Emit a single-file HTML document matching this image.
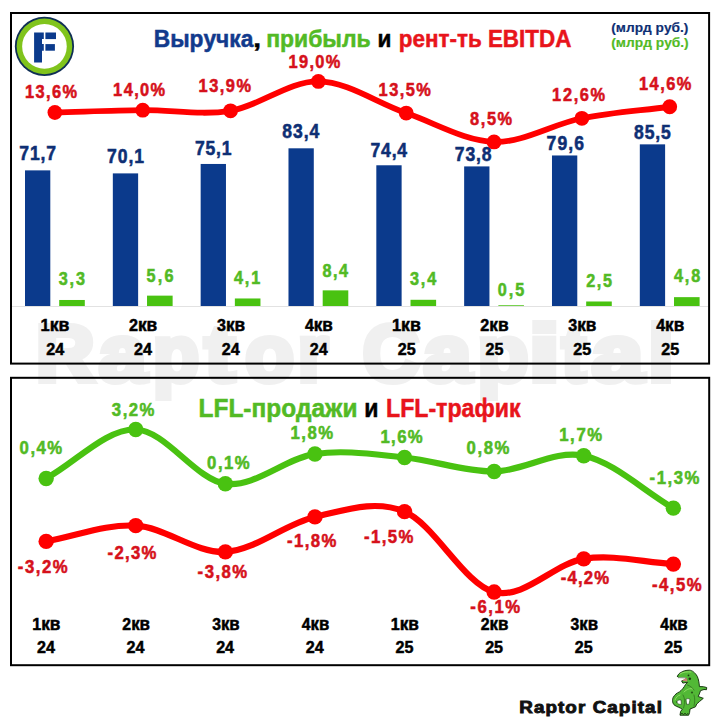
<!DOCTYPE html>
<html><head><meta charset="utf-8"><style>
html,body{margin:0;padding:0;background:#fff;}
body{width:720px;height:720px;overflow:hidden;}
svg{display:block;}
text{font-family:"Liberation Sans",sans-serif;font-weight:bold;font-kerning:none;}
</style></head><body>
<svg width="720" height="720" viewBox="0 0 720 720">
<rect width="720" height="720" fill="#fff"/>
<text x="36.07" y="380.80" font-size="79" textLength="58.59" lengthAdjust="spacingAndGlyphs" fill="#f0f0f0" stroke="#f0f0f0" stroke-width="6">R</text>
<text x="99.00" y="380.80" font-size="79" textLength="47.46" lengthAdjust="spacingAndGlyphs" fill="#f0f0f0" stroke="#f0f0f0" stroke-width="6">a</text>
<text x="153.03" y="380.80" font-size="79" textLength="46.06" lengthAdjust="spacingAndGlyphs" fill="#f0f0f0" stroke="#f0f0f0" stroke-width="6">p</text>
<text x="204.89" y="380.80" font-size="79" textLength="30.22" lengthAdjust="spacingAndGlyphs" fill="#f0f0f0" stroke="#f0f0f0" stroke-width="6">t</text>
<text x="245.38" y="380.80" font-size="79" textLength="48.73" lengthAdjust="spacingAndGlyphs" fill="#f0f0f0" stroke="#f0f0f0" stroke-width="6">o</text>
<text x="297.87" y="380.80" font-size="79" textLength="30.31" lengthAdjust="spacingAndGlyphs" fill="#f0f0f0" stroke="#f0f0f0" stroke-width="6">r</text>
<text x="362.80" y="380.80" font-size="79" textLength="56.33" lengthAdjust="spacingAndGlyphs" fill="#f0f0f0" stroke="#f0f0f0" stroke-width="6">C</text>
<text x="423.47" y="380.80" font-size="79" textLength="47.98" lengthAdjust="spacingAndGlyphs" fill="#f0f0f0" stroke="#f0f0f0" stroke-width="6">a</text>
<text x="477.51" y="380.80" font-size="79" textLength="50.91" lengthAdjust="spacingAndGlyphs" fill="#f0f0f0" stroke="#f0f0f0" stroke-width="6">p</text>
<text x="528.76" y="380.80" font-size="79" textLength="31.18" lengthAdjust="spacingAndGlyphs" fill="#f0f0f0" stroke="#f0f0f0" stroke-width="6">i</text>
<text x="561.71" y="380.80" font-size="79" textLength="24.17" lengthAdjust="spacingAndGlyphs" fill="#f0f0f0" stroke="#f0f0f0" stroke-width="6">t</text>
<text x="591.78" y="380.80" font-size="79" textLength="51.63" lengthAdjust="spacingAndGlyphs" fill="#f0f0f0" stroke="#f0f0f0" stroke-width="6">a</text>
<text x="648.14" y="380.80" font-size="79" textLength="26.12" lengthAdjust="spacingAndGlyphs" fill="#f0f0f0" stroke="#f0f0f0" stroke-width="6">l</text>
<rect x="11" y="13" width="698.1" height="350.6" fill="none" stroke="#000" stroke-width="2"/>
<rect x="11" y="377.8" width="698.2" height="287.4" fill="none" stroke="#000" stroke-width="2"/>
<circle cx="44.45" cy="46.4" r="29.6" fill="#0f2f55"/>
<circle cx="44.45" cy="46.4" r="27.8" fill="#80c41c"/>
<circle cx="44.45" cy="46.4" r="22.3" fill="#fff"/>
<path d="M34.1,32.5H43.8V39.1H42V44.1H43.8V50.7H42V62.6H34.1Z" fill="#0b3a8c"/>
<rect x="45.4" y="32.5" width="10.6" height="6.6" fill="#0b3a8c"/>
<rect x="45.4" y="44.1" width="9.5" height="6.6" fill="#0b3a8c"/>
<text x="153.73" y="47.10" font-size="24" textLength="99.63" lengthAdjust="spacingAndGlyphs" fill="#123a8c" stroke="#123a8c" stroke-width="0.5">Выручка</text>
<text x="253.35" y="47.10" font-size="24" textLength="7.77" lengthAdjust="spacingAndGlyphs" fill="#000000" stroke="#000000" stroke-width="0.5">,</text>
<text x="266.15" y="47.10" font-size="24" textLength="104.56" lengthAdjust="spacingAndGlyphs" fill="#52ba25" stroke="#52ba25" stroke-width="0.5">прибыль</text>
<text x="377.43" y="47.10" font-size="24" textLength="13.88" lengthAdjust="spacingAndGlyphs" fill="#000000" stroke="#000000" stroke-width="0.5">и</text>
<text x="398.77" y="47.10" font-size="24" textLength="172.57" lengthAdjust="spacingAndGlyphs" fill="#e8141b" stroke="#e8141b" stroke-width="0.5">рент-ть EBITDA</text>
<text x="611.29" y="32.30" font-size="12.3" textLength="77.06" lengthAdjust="spacingAndGlyphs" fill="#0e2f74" stroke="#0e2f74" stroke-width="0.15">(млрд руб.)</text>
<text x="611.29" y="46.75" font-size="12.5" textLength="77.42" lengthAdjust="spacingAndGlyphs" fill="#52ba25" stroke="#52ba25" stroke-width="0.15">(млрд руб.)</text>
<line x1="12" y1="306.5" x2="708" y2="306.5" stroke="#e2e2e2" stroke-width="1"/>
<rect x="25.00" y="170.37" width="25.3" height="135.63" fill="#0b3a8c"/>
<rect x="59.20" y="299.98" width="25.6" height="6.02" fill="#49c211"/>
<rect x="112.83" y="173.39" width="25.3" height="132.61" fill="#0b3a8c"/>
<rect x="147.03" y="295.64" width="25.6" height="10.36" fill="#49c211"/>
<rect x="200.66" y="163.96" width="25.3" height="142.04" fill="#0b3a8c"/>
<rect x="234.86" y="298.47" width="25.6" height="7.53" fill="#49c211"/>
<rect x="288.49" y="148.31" width="25.3" height="157.69" fill="#0b3a8c"/>
<rect x="322.69" y="290.36" width="25.6" height="15.64" fill="#49c211"/>
<rect x="376.32" y="165.28" width="25.3" height="140.72" fill="#0b3a8c"/>
<rect x="410.52" y="299.79" width="25.6" height="6.21" fill="#49c211"/>
<rect x="464.15" y="166.41" width="25.3" height="139.59" fill="#0b3a8c"/>
<rect x="498.35" y="305.26" width="25.6" height="0.74" fill="#49c211"/>
<rect x="551.98" y="155.47" width="25.3" height="150.53" fill="#0b3a8c"/>
<rect x="586.18" y="301.49" width="25.6" height="4.51" fill="#49c211"/>
<rect x="639.81" y="144.35" width="25.3" height="161.65" fill="#0b3a8c"/>
<rect x="674.01" y="297.15" width="25.6" height="8.85" fill="#49c211"/>
<text transform="translate(19.25,160.00) scale(0.9,1)" font-size="19.5" letter-spacing="1.007" fill="#0e2f74" stroke="#0e2f74" stroke-width="0.556">71,7</text>
<text transform="translate(107.00,163.00) scale(0.9,1)" font-size="19.5" letter-spacing="1.050" fill="#0e2f74" stroke="#0e2f74" stroke-width="0.556">70,1</text>
<text transform="translate(195.00,155.00) scale(0.9,1)" font-size="19.5" letter-spacing="0.865" fill="#0e2f74" stroke="#0e2f74" stroke-width="0.556">75,1</text>
<text transform="translate(282.19,137.50) scale(0.9,1)" font-size="19.5" letter-spacing="1.072" fill="#0e2f74" stroke="#0e2f74" stroke-width="0.556">83,4</text>
<text transform="translate(370.50,156.50) scale(0.9,1)" font-size="19.5" letter-spacing="0.904" fill="#0e2f74" stroke="#0e2f74" stroke-width="0.556">74,4</text>
<text transform="translate(454.75,160.60) scale(0.9,1)" font-size="19.5" letter-spacing="0.977" fill="#0e2f74" stroke="#0e2f74" stroke-width="0.556">73,8</text>
<text transform="translate(546.60,150.40) scale(0.9,1)" font-size="19.5" letter-spacing="1.252" fill="#0e2f74" stroke="#0e2f74" stroke-width="0.556">79,6</text>
<text transform="translate(634.09,138.75) scale(0.9,1)" font-size="19.5" letter-spacing="0.959" fill="#0e2f74" stroke="#0e2f74" stroke-width="0.556">85,5</text>
<text transform="translate(58.63,285.25) scale(0.9,1)" font-size="18" letter-spacing="2.187" fill="#52ba25" stroke="#52ba25" stroke-width="0.556">3,3</text>
<text transform="translate(146.45,281.70) scale(0.9,1)" font-size="18" letter-spacing="2.591" fill="#52ba25" stroke="#52ba25" stroke-width="0.556">5,6</text>
<text transform="translate(234.00,284.30) scale(0.9,1)" font-size="18" letter-spacing="2.042" fill="#52ba25" stroke="#52ba25" stroke-width="0.556">4,1</text>
<text transform="translate(322.44,276.70) scale(0.9,1)" font-size="18" letter-spacing="1.767" fill="#52ba25" stroke="#52ba25" stroke-width="0.556">8,4</text>
<text transform="translate(409.98,285.30) scale(0.9,1)" font-size="18" letter-spacing="2.077" fill="#52ba25" stroke="#52ba25" stroke-width="0.556">3,4</text>
<text transform="translate(497.81,296.00) scale(0.9,1)" font-size="18" letter-spacing="2.151" fill="#52ba25" stroke="#52ba25" stroke-width="0.556">0,5</text>
<text transform="translate(586.19,286.80) scale(0.9,1)" font-size="18" letter-spacing="1.829" fill="#52ba25" stroke="#52ba25" stroke-width="0.556">2,5</text>
<text transform="translate(674.00,282.40) scale(0.9,1)" font-size="18" letter-spacing="2.069" fill="#52ba25" stroke="#52ba25" stroke-width="0.556">4,8</text>
<path d="M54.90,112.51 C84.18,111.75 113.45,110.50 142.73,110.21 C172.01,109.92 201.28,115.59 230.56,110.79 C259.84,105.98 289.11,81.02 318.39,81.40 C347.67,81.78 376.94,103.01 406.22,113.09 C435.50,123.17 464.77,141.04 494.05,141.90 C523.33,142.77 552.60,124.13 581.88,118.28 C611.16,112.42 640.43,110.59 669.71,106.75" fill="none" stroke="#ff0000" stroke-width="5.8" stroke-linecap="round" stroke-linejoin="round"/>
<circle cx="54.90" cy="112.51" r="7.4" fill="#ff0000"/>
<circle cx="142.73" cy="110.21" r="7.4" fill="#ff0000"/>
<circle cx="230.56" cy="110.79" r="7.4" fill="#ff0000"/>
<circle cx="318.39" cy="81.40" r="7.4" fill="#ff0000"/>
<circle cx="406.22" cy="113.09" r="7.4" fill="#ff0000"/>
<circle cx="494.05" cy="141.90" r="7.4" fill="#ff0000"/>
<circle cx="581.88" cy="118.28" r="7.4" fill="#ff0000"/>
<circle cx="669.71" cy="106.75" r="7.4" fill="#ff0000"/>
<text transform="translate(25.02,97.80) scale(0.9,1)" font-size="18.2" letter-spacing="1.533" fill="#d6111b" stroke="#d6111b" stroke-width="0.556">13,6%</text>
<text transform="translate(113.12,95.70) scale(0.9,1)" font-size="18.2" letter-spacing="1.561" fill="#d6111b" stroke="#d6111b" stroke-width="0.556">14,0%</text>
<text transform="translate(198.62,92.20) scale(0.9,1)" font-size="18.2" letter-spacing="1.644" fill="#d6111b" stroke="#d6111b" stroke-width="0.556">13,9%</text>
<text transform="translate(288.62,68.30) scale(0.9,1)" font-size="18.2" letter-spacing="1.450" fill="#d6111b" stroke="#d6111b" stroke-width="0.556">19,0%</text>
<text transform="translate(378.62,96.40) scale(0.9,1)" font-size="18.2" letter-spacing="1.589" fill="#d6111b" stroke="#d6111b" stroke-width="0.556">13,5%</text>
<text transform="translate(470.03,125.40) scale(0.9,1)" font-size="18.2" letter-spacing="1.784" fill="#d6111b" stroke="#d6111b" stroke-width="0.556">8,5%</text>
<text transform="translate(552.12,101.40) scale(0.9,1)" font-size="18.2" letter-spacing="1.839" fill="#d6111b" stroke="#d6111b" stroke-width="0.556">12,6%</text>
<text transform="translate(639.02,90.20) scale(0.9,1)" font-size="18.2" letter-spacing="1.644" fill="#d6111b" stroke="#d6111b" stroke-width="0.556">14,6%</text>
<text x="40.61" y="330.80" font-size="16.6" textLength="28.83" lengthAdjust="spacingAndGlyphs" fill="#000000" stroke="#000000" stroke-width="0.5">1<tspan font-size="17.8">кв</tspan></text>
<text x="46.19" y="354.60" font-size="16.6" textLength="17.95" lengthAdjust="spacingAndGlyphs" fill="#000000" stroke="#000000" stroke-width="0.5">24</text>
<text x="128.92" y="330.80" font-size="16.6" textLength="28.34" lengthAdjust="spacingAndGlyphs" fill="#000000" stroke="#000000" stroke-width="0.5">2<tspan font-size="17.8">кв</tspan></text>
<text x="134.02" y="354.60" font-size="16.6" textLength="17.95" lengthAdjust="spacingAndGlyphs" fill="#000000" stroke="#000000" stroke-width="0.5">24</text>
<text x="216.94" y="330.80" font-size="16.6" textLength="28.14" lengthAdjust="spacingAndGlyphs" fill="#000000" stroke="#000000" stroke-width="0.5">3<tspan font-size="17.8">кв</tspan></text>
<text x="221.85" y="354.60" font-size="16.6" textLength="17.95" lengthAdjust="spacingAndGlyphs" fill="#000000" stroke="#000000" stroke-width="0.5">24</text>
<text x="304.90" y="330.80" font-size="16.6" textLength="28.01" lengthAdjust="spacingAndGlyphs" fill="#000000" stroke="#000000" stroke-width="0.5">4<tspan font-size="17.8">кв</tspan></text>
<text x="309.68" y="354.60" font-size="16.6" textLength="17.95" lengthAdjust="spacingAndGlyphs" fill="#000000" stroke="#000000" stroke-width="0.5">24</text>
<text x="391.93" y="330.80" font-size="16.6" textLength="28.83" lengthAdjust="spacingAndGlyphs" fill="#000000" stroke="#000000" stroke-width="0.5">1<tspan font-size="17.8">кв</tspan></text>
<text x="397.70" y="354.60" font-size="16.6" textLength="17.93" lengthAdjust="spacingAndGlyphs" fill="#000000" stroke="#000000" stroke-width="0.5">25</text>
<text x="480.24" y="330.80" font-size="16.6" textLength="28.34" lengthAdjust="spacingAndGlyphs" fill="#000000" stroke="#000000" stroke-width="0.5">2<tspan font-size="17.8">кв</tspan></text>
<text x="485.53" y="354.60" font-size="16.6" textLength="17.93" lengthAdjust="spacingAndGlyphs" fill="#000000" stroke="#000000" stroke-width="0.5">25</text>
<text x="568.26" y="330.80" font-size="16.6" textLength="28.14" lengthAdjust="spacingAndGlyphs" fill="#000000" stroke="#000000" stroke-width="0.5">3<tspan font-size="17.8">кв</tspan></text>
<text x="573.36" y="354.60" font-size="16.6" textLength="17.93" lengthAdjust="spacingAndGlyphs" fill="#000000" stroke="#000000" stroke-width="0.5">25</text>
<text x="656.22" y="330.80" font-size="16.6" textLength="28.01" lengthAdjust="spacingAndGlyphs" fill="#000000" stroke="#000000" stroke-width="0.5">4<tspan font-size="17.8">кв</tspan></text>
<text x="661.19" y="354.60" font-size="16.6" textLength="17.93" lengthAdjust="spacingAndGlyphs" fill="#000000" stroke="#000000" stroke-width="0.5">25</text>
<text x="198.62" y="417.10" font-size="25" textLength="158.83" lengthAdjust="spacingAndGlyphs" fill="#52ba25" stroke="#52ba25" stroke-width="0.5">LFL-продажи</text>
<text x="364.15" y="417.10" font-size="25" textLength="14.20" lengthAdjust="spacingAndGlyphs" fill="#000000" stroke="#000000" stroke-width="0.5">и</text>
<text x="386.00" y="417.10" font-size="25" textLength="134.49" lengthAdjust="spacingAndGlyphs" fill="#e8141b" stroke="#e8141b" stroke-width="0.5">LFL-трафик</text>
<path d="M46.15,478.45 C76.02,462.13 105.88,428.63 135.75,429.50 C165.62,430.38 195.48,479.61 225.35,483.69 C255.22,487.77 285.08,458.35 314.95,453.98 C344.82,449.61 374.68,454.56 404.55,457.47 C434.42,460.39 464.28,471.75 494.15,471.46 C524.02,471.16 553.88,449.61 583.75,455.72 C613.62,461.84 643.48,490.68 673.35,508.16" fill="none" stroke="#49c211" stroke-width="6.2" stroke-linecap="round" stroke-linejoin="round"/>
<circle cx="46.15" cy="478.45" r="7.7" fill="#49c211"/>
<circle cx="135.75" cy="429.50" r="7.7" fill="#49c211"/>
<circle cx="225.35" cy="483.69" r="7.7" fill="#49c211"/>
<circle cx="314.95" cy="453.98" r="7.7" fill="#49c211"/>
<circle cx="404.55" cy="457.47" r="7.7" fill="#49c211"/>
<circle cx="494.15" cy="471.46" r="7.7" fill="#49c211"/>
<circle cx="583.75" cy="455.72" r="7.7" fill="#49c211"/>
<circle cx="673.35" cy="508.16" r="7.7" fill="#49c211"/>
<path d="M46.15,541.38 C76.02,536.13 105.88,523.90 135.75,525.64 C165.62,527.39 195.48,553.32 225.35,551.86 C255.22,550.41 285.08,523.60 314.95,516.90 C344.82,510.20 374.68,499.13 404.55,511.66 C434.42,524.19 464.28,584.20 494.15,592.07 C524.02,599.93 553.88,563.52 583.75,558.86 C613.62,554.19 643.48,562.35 673.35,564.10" fill="none" stroke="#ff0000" stroke-width="6.2" stroke-linecap="round" stroke-linejoin="round"/>
<circle cx="46.15" cy="541.38" r="7.7" fill="#ff0000"/>
<circle cx="135.75" cy="525.64" r="7.7" fill="#ff0000"/>
<circle cx="225.35" cy="551.86" r="7.7" fill="#ff0000"/>
<circle cx="314.95" cy="516.90" r="7.7" fill="#ff0000"/>
<circle cx="404.55" cy="511.66" r="7.7" fill="#ff0000"/>
<circle cx="494.15" cy="592.07" r="7.7" fill="#ff0000"/>
<circle cx="583.75" cy="558.86" r="7.7" fill="#ff0000"/>
<circle cx="673.35" cy="564.10" r="7.7" fill="#ff0000"/>
<text transform="translate(19.59,453.60) scale(0.9,1)" font-size="18.6" letter-spacing="1.647" fill="#52ba25" stroke="#52ba25" stroke-width="0.556">0,4%</text>
<text transform="translate(111.87,416.25) scale(0.9,1)" font-size="18.6" letter-spacing="1.637" fill="#52ba25" stroke="#52ba25" stroke-width="0.556">3,2%</text>
<text transform="translate(207.09,468.75) scale(0.9,1)" font-size="18.6" letter-spacing="1.647" fill="#52ba25" stroke="#52ba25" stroke-width="0.556">0,1%</text>
<text transform="translate(290.45,439.25) scale(0.9,1)" font-size="18.6" letter-spacing="1.700" fill="#52ba25" stroke="#52ba25" stroke-width="0.556">1,8%</text>
<text transform="translate(380.45,442.50) scale(0.9,1)" font-size="18.6" letter-spacing="1.515" fill="#52ba25" stroke="#52ba25" stroke-width="0.556">1,6%</text>
<text transform="translate(466.59,454.25) scale(0.9,1)" font-size="18.6" letter-spacing="1.740" fill="#52ba25" stroke="#52ba25" stroke-width="0.556">0,8%</text>
<text transform="translate(559.20,440.50) scale(0.9,1)" font-size="18.6" letter-spacing="1.793" fill="#52ba25" stroke="#52ba25" stroke-width="0.556">1,7%</text>
<text transform="translate(649.60,483.75) scale(0.9,1)" font-size="18.6" letter-spacing="1.699" fill="#52ba25" stroke="#52ba25" stroke-width="0.556">-1,3%</text>
<text transform="translate(17.85,573.00) scale(0.9,1)" font-size="18.6" letter-spacing="1.699" fill="#d6111b" stroke="#d6111b" stroke-width="0.556">-3,2%</text>
<text transform="translate(107.60,559.25) scale(0.9,1)" font-size="18.6" letter-spacing="1.421" fill="#d6111b" stroke="#d6111b" stroke-width="0.556">-2,3%</text>
<text transform="translate(197.60,578.00) scale(0.9,1)" font-size="18.6" letter-spacing="1.629" fill="#d6111b" stroke="#d6111b" stroke-width="0.556">-3,8%</text>
<text transform="translate(287.10,546.75) scale(0.9,1)" font-size="18.6" letter-spacing="1.560" fill="#d6111b" stroke="#d6111b" stroke-width="0.556">-1,8%</text>
<text transform="translate(364.10,542.50) scale(0.9,1)" font-size="18.6" letter-spacing="1.560" fill="#d6111b" stroke="#d6111b" stroke-width="0.556">-1,5%</text>
<text transform="translate(470.30,613.30) scale(0.9,1)" font-size="18.6" letter-spacing="1.713" fill="#d6111b" stroke="#d6111b" stroke-width="0.556">-6,1%</text>
<text transform="translate(560.70,584.40) scale(0.9,1)" font-size="18.6" letter-spacing="1.296" fill="#d6111b" stroke="#d6111b" stroke-width="0.556">-4,2%</text>
<text transform="translate(651.90,591.40) scale(0.9,1)" font-size="18.6" letter-spacing="1.657" fill="#d6111b" stroke="#d6111b" stroke-width="0.556">-4,5%</text>
<text x="32.29" y="629.50" font-size="16.6" textLength="28.19" lengthAdjust="spacingAndGlyphs" fill="#000000" stroke="#000000" stroke-width="0.5">1<tspan font-size="17.8">кв</tspan></text>
<text x="36.94" y="653.30" font-size="16.6" textLength="17.95" lengthAdjust="spacingAndGlyphs" fill="#000000" stroke="#000000" stroke-width="0.5">24</text>
<text x="122.35" y="629.50" font-size="16.6" textLength="27.71" lengthAdjust="spacingAndGlyphs" fill="#000000" stroke="#000000" stroke-width="0.5">2<tspan font-size="17.8">кв</tspan></text>
<text x="126.54" y="653.30" font-size="16.6" textLength="17.95" lengthAdjust="spacingAndGlyphs" fill="#000000" stroke="#000000" stroke-width="0.5">24</text>
<text x="212.14" y="629.50" font-size="16.6" textLength="27.52" lengthAdjust="spacingAndGlyphs" fill="#000000" stroke="#000000" stroke-width="0.5">3<tspan font-size="17.8">кв</tspan></text>
<text x="216.14" y="653.30" font-size="16.6" textLength="17.95" lengthAdjust="spacingAndGlyphs" fill="#000000" stroke="#000000" stroke-width="0.5">24</text>
<text x="301.86" y="629.50" font-size="16.6" textLength="27.39" lengthAdjust="spacingAndGlyphs" fill="#000000" stroke="#000000" stroke-width="0.5">4<tspan font-size="17.8">кв</tspan></text>
<text x="305.74" y="653.30" font-size="16.6" textLength="17.95" lengthAdjust="spacingAndGlyphs" fill="#000000" stroke="#000000" stroke-width="0.5">24</text>
<text x="390.69" y="629.50" font-size="16.6" textLength="28.19" lengthAdjust="spacingAndGlyphs" fill="#000000" stroke="#000000" stroke-width="0.5">1<tspan font-size="17.8">кв</tspan></text>
<text x="395.53" y="653.30" font-size="16.6" textLength="17.93" lengthAdjust="spacingAndGlyphs" fill="#000000" stroke="#000000" stroke-width="0.5">25</text>
<text x="480.75" y="629.50" font-size="16.6" textLength="27.71" lengthAdjust="spacingAndGlyphs" fill="#000000" stroke="#000000" stroke-width="0.5">2<tspan font-size="17.8">кв</tspan></text>
<text x="485.13" y="653.30" font-size="16.6" textLength="17.93" lengthAdjust="spacingAndGlyphs" fill="#000000" stroke="#000000" stroke-width="0.5">25</text>
<text x="570.54" y="629.50" font-size="16.6" textLength="27.52" lengthAdjust="spacingAndGlyphs" fill="#000000" stroke="#000000" stroke-width="0.5">3<tspan font-size="17.8">кв</tspan></text>
<text x="574.73" y="653.30" font-size="16.6" textLength="17.93" lengthAdjust="spacingAndGlyphs" fill="#000000" stroke="#000000" stroke-width="0.5">25</text>
<text x="660.26" y="629.50" font-size="16.6" textLength="27.39" lengthAdjust="spacingAndGlyphs" fill="#000000" stroke="#000000" stroke-width="0.5">4<tspan font-size="17.8">кв</tspan></text>
<text x="664.33" y="653.30" font-size="16.6" textLength="17.93" lengthAdjust="spacingAndGlyphs" fill="#000000" stroke="#000000" stroke-width="0.5">25</text>
<text transform="translate(519.24,712.80) scale(1.12,1)" font-size="16.8" letter-spacing="0.969" fill="#111111" stroke="#111111" stroke-width="0.893">Raptor Capital</text>
<g transform="translate(668,668)" stroke-linejoin="round" stroke-linecap="round">
<path d="M9.5,8.3 C10,6 12,4.8 13.1,4.4 C15,3 18,2.2 21.4,2.2 C24,2.2 27,4.5 29.2,8.3 C30.5,11 31.2,15 31.4,18.6 L35.3,18.7 L38.7,19.5 L38.5,21.7 L36,21.5 L32.5,22.6 C31.8,25 31,27 30.2,28.5 L35.3,30.3 L31.5,33.5 L28.7,36 L27.5,38.8 L22,41 L21.6,44.5 L20.6,47.2 L12,47.2 L12.6,43.5 L14.3,41.3 C12,39.5 9,38.8 6.8,37.4 C4.5,35.8 3.8,32 5.3,29.2 C6.8,26.5 9,25 11.4,23.9 C13.5,22.5 16,19.5 17.5,16.5 L19.6,14.2 L14.8,15.1 L13.6,12.9 L18.6,11.4 L17.2,9.8 L10.4,9.6 C9.8,9.3 9.5,8.8 9.5,8.3 Z" fill="#52b836" stroke="#1a3a12" stroke-width="1"/>
<path d="M8.7,34 C9,32.3 10.8,31.8 13.1,32 L13.4,36.4 C11,36.6 9.3,35.8 8.7,34 Z M18.2,31 C19.5,30.3 21,30.5 22,31.5 L21,36.4 L18.8,36.2 Z" fill="#fff" stroke="#1a3a12" stroke-width="0.6"/>
<path d="M14.2,12.6 L18.5,9.8 L19.3,13.6 Z" fill="#d47f77"/>
<path d="M10.8,9.9 L17,9.9" stroke="#fff" stroke-width="0.7"/>
<path d="M12,6 C15,4 19,3.5 23,4 M16,24 C19,21 22,20 25,21 M7,32 C8,29 10,27.5 12,27" fill="none" stroke="#8fdc63" stroke-width="1"/>
<path d="M15,27 C17,30 17,35 15.5,40 M26,27 C27,30 27,34 26,38 M19.5,17 C22,18 24,19 26,22" fill="none" stroke="#2a5a1a" stroke-width="0.6"/>
<circle cx="20.5" cy="7.4" r="0.9" fill="#1a3a12"/>
<circle cx="21.8" cy="10.8" r="1.3" fill="#1a3a12"/>
<circle cx="24" cy="24.5" r="1.1" fill="#2a5a1a"/>
<path d="M12.5,46.5 L14,45 L15.5,46.8 L17,45 L18.5,46.8 L20,45.2" fill="none" stroke="#1a3a12" stroke-width="0.8"/>
</g>
</svg>
</body></html>
